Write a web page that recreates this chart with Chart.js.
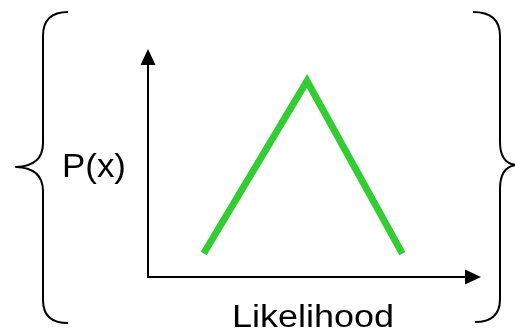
<!DOCTYPE html>
<html>
<head>
<meta charset="utf-8">
<script src="https://cdn.jsdelivr.net/npm/chart.js@4.4.1/dist/chart.umd.min.js"></script>
<style>
  html, body { margin: 0; padding: 0; background: #ffffff; }
  #wrap { width: 515px; height: 333px; }
</style>
</head>
<body>
<div id="wrap"><canvas id="c" width="515" height="333"></canvas></div>
<script>
// ---- data ----
const likelihoodValues = [17.5, 50, 80];   // x positions (axis units 0..100)
const probabilityValues = [11, 92, 11];    // y values (axis units 0..100)
const xAxisLabel = 'Likelihood';
const yAxisLabel = 'P(x)';

const points = likelihoodValues.map((x, i) => ({ x: x, y: probabilityValues[i] }));

const decorations = {
  id: 'decorations',
  afterDraw(chart) {
    const ctx = chart.ctx;
    const a = chart.chartArea;
    ctx.save();
    ctx.fillStyle = '#000';
    // y-axis arrowhead
    ctx.beginPath();
    ctx.moveTo(a.left, a.top - 15);
    ctx.lineTo(a.left - 7.5, a.top + 1);
    ctx.lineTo(a.left + 7.5, a.top + 1);
    ctx.closePath();
    ctx.fill();
    // x-axis arrowhead
    ctx.beginPath();
    ctx.moveTo(a.right + 15, a.bottom);
    ctx.lineTo(a.right - 1, a.bottom - 7.5);
    ctx.lineTo(a.right - 1, a.bottom + 7.5);
    ctx.closePath();
    ctx.fill();

    // braces
    ctx.strokeStyle = '#000';
    ctx.lineWidth = 2;
    ctx.lineJoin = 'round';
    // left brace
    ctx.beginPath();
    ctx.moveTo(68, 12);
    ctx.quadraticCurveTo(43, 12, 43, 36);
    ctx.lineTo(43, 143);
    ctx.quadraticCurveTo(43, 166, 16, 167);
    ctx.quadraticCurveTo(43, 168, 43, 191);
    ctx.lineTo(43, 300);
    ctx.quadraticCurveTo(43, 323, 68, 323);
    ctx.stroke();
    // right brace
    ctx.beginPath();
    ctx.moveTo(473, 12);
    ctx.quadraticCurveTo(500, 12, 500, 36);
    ctx.lineTo(500, 142);
    ctx.quadraticCurveTo(500, 164, 517, 165);
    ctx.quadraticCurveTo(500, 166, 500, 189);
    ctx.lineTo(500, 299);
    ctx.quadraticCurveTo(500, 322, 475, 322);
    ctx.stroke();

    // labels
    ctx.fillStyle = '#000';
    ctx.textBaseline = 'alphabetic';
    ctx.textAlign = 'left';
    ctx.font = '33px "Liberation Sans", Arial, sans-serif';
    let w = ctx.measureText(yAxisLabel).width;
    ctx.save();
    ctx.translate(62, 177);
    ctx.scale(64 / w, 1);
    ctx.fillText(yAxisLabel, 0, 0);
    ctx.restore();

    ctx.font = '31px "Liberation Sans", Arial, sans-serif';
    w = ctx.measureText(xAxisLabel).width;
    ctx.save();
    ctx.translate(232, 327);
    ctx.scale(162 / w, 1);
    ctx.fillText(xAxisLabel, 0, 0);
    ctx.restore();
    ctx.restore();
  }
};

new Chart(document.getElementById('c'), {
  type: 'line',
  data: {
    datasets: [{
      data: points,
      borderColor: '#33cc33',
      borderWidth: 7,
      borderCapStyle: 'butt',
      borderJoinStyle: 'miter',
      pointRadius: 0,
      tension: 0,
      fill: false
    }]
  },
  options: {
    responsive: false,
    animation: false,
    events: [],
    layout: { padding: { left: 148, right: 49, top: 64, bottom: 56 } },
    plugins: { legend: { display: false }, tooltip: { enabled: false }, title: { display: false } },
    scales: {
      x: {
        type: 'linear', min: 0, max: 100,
        grid: { display: false, drawTicks: false },
        ticks: { display: false },
        border: { display: true, color: '#000', width: 2 }
      },
      y: {
        type: 'linear', min: 0, max: 100,
        grid: { display: false, drawTicks: false },
        ticks: { display: false },
        border: { display: true, color: '#000', width: 2 }
      }
    }
  },
  plugins: [decorations]
});
</script>
</body>
</html>
